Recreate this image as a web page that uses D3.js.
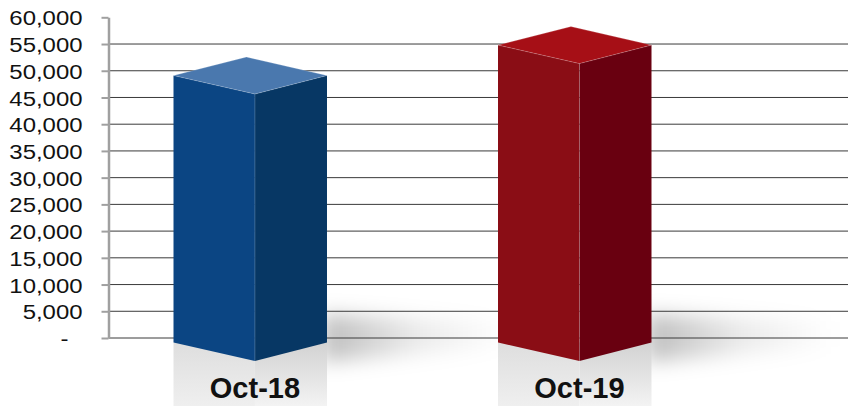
<!DOCTYPE html>
<html><head><meta charset="utf-8">
<script src="https://cdn.jsdelivr.net/npm/d3@7"></script>
<style>
html,body{margin:0;padding:0;background:#fff;}
svg{display:block;}
</style></head>
<body>
<svg id="chart" width="848" height="406"></svg>
<script>
const categories = ["Oct-18", "Oct-19"];
const values = [49100, 54800];
const tickValues = [0, 5000, 10000, 15000, 20000, 25000, 30000, 35000, 40000, 45000, 50000, 55000, 60000];
const tickLabels = ["-", "5,000", "10,000", "15,000", "20,000", "25,000", "30,000", "35,000", "40,000", "45,000", "50,000", "55,000", "60,000"];
const faceColors = [
  {left: "#0b4583", right: "#073764", top: "#4a78ae"},
  {left: "#8a0d15", right: "#690010", top: "#a60f16"}
];

const W = 848, H = 406;
const svg = d3.select("#chart");
const defs = svg.append("defs");

const y = d3.scaleLinear().domain([0, 60000]).range([338, 17.3]);
const x = d3.scaleBand().domain(categories).range([88, 737]).padding(0);
const axisX = 108.5;

const halfW = x.bandwidth() * 0.2365;
const depth = 18.5, frontDx = 4.7, backDx = -3.8, baseDrop = 4.5;

// filters / gradients
const blur = defs.append("filter").attr("id", "blur").attr("x", "-50%").attr("y", "-50%").attr("width", "200%").attr("height", "200%");
blur.append("feGaussianBlur").attr("stdDeviation", 10);
const sg = defs.append("linearGradient").attr("id", "shadowGrad").attr("x1", 0).attr("x2", 1).attr("y1", 0).attr("y2", 0);
sg.append("stop").attr("offset", "0%").attr("stop-color", "#000").attr("stop-opacity", 0.26);
sg.append("stop").attr("offset", "50%").attr("stop-color", "#000").attr("stop-opacity", 0.08);
sg.append("stop").attr("offset", "100%").attr("stop-color", "#000").attr("stop-opacity", 0);
const fg = defs.append("linearGradient").attr("id", "floorL").attr("x1", 0).attr("x2", 0).attr("y1", 0).attr("y2", 1);
fg.append("stop").attr("offset", "0%").attr("stop-color", "#dedede");
fg.append("stop").attr("offset", "100%").attr("stop-color", "#efefef");
const fg2 = defs.append("linearGradient").attr("id", "floorR").attr("x1", 0).attr("x2", 0).attr("y1", 0).attr("y2", 1);
fg2.append("stop").attr("offset", "0%").attr("stop-color", "#d2d2d2");
fg2.append("stop").attr("offset", "100%").attr("stop-color", "#f3f3f3");

// shadows
const shadowG = svg.append("g");
categories.forEach((c, i) => {
  const cx = x(c) + x.bandwidth() / 2;
  const xr = cx + halfW;
  const y0 = y(0);
  shadowG.append("polygon")
    .attr("points", [[xr - 5, y0 - 24], [xr + 185, y0 - 16], [xr + 185, y0 + 8], [xr - 5, y0 + 24]].map(p => p.join(",")).join(" "))
    .attr("fill", "url(#shadowGrad)")
    .attr("filter", "url(#blur)");
});

// gridlines
const grid = svg.append("g");
tickValues.filter(v => v < 60000).forEach(v => {
  grid.append("line")
    .attr("x1", axisX).attr("x2", W)
    .attr("y1", y(v)).attr("y2", y(v))
    .attr("stroke", "#3a3a3a").attr("stroke-width", 1);
});

// axis
const axis = d3.axisLeft(y).tickValues(tickValues).tickFormat((d, i) => tickLabels[i]).tickSize(7).tickSizeOuter(0);
const ax = svg.append("g").attr("transform", `translate(${axisX},0)`).call(axis);
ax.select(".domain").attr("stroke", "#a0a0a0").attr("stroke-width", 2.5);
ax.selectAll(".tick line").attr("stroke", "#a0a0a0").attr("stroke-width", 2);
const sx = 1.14;
ax.selectAll(".tick text")
  .attr("font-family", "'Liberation Sans', Arial, sans-serif")
  .attr("font-size", 21)
  .attr("fill", "#111")
  .attr("transform", `scale(${sx},1)`)
  .attr("x", (d, i) => (tickLabels[i] === "-" ? -40 : -26) / sx)
  .attr("dy", "0.36em");

// floors and bars
const barsG = svg.append("g");
categories.forEach((c, i) => {
  const cx = x(c) + x.bandwidth() / 2;
  const yt = y(values[i]);
  const y0 = y(0);
  const yb = y0 + baseDrop;
  const xl = cx - halfW, xr = cx + halfW, xf = cx + frontDx, xbk = cx + backDx;
  const col = faceColors[i];
  const pts = a => a.map(p => p.join(",")).join(" ");

  barsG.append("rect").attr("x", xl).attr("y", yb).attr("width", xf - xl).attr("height", H - yb).attr("fill", "url(#floorL)");
  barsG.append("rect").attr("x", xf).attr("y", yb).attr("width", xr - xf).attr("height", H - yb).attr("fill", "url(#floorR)");

  barsG.append("polygon").attr("points", pts([[xl, yt], [xf, yt + depth], [xf, yb + depth], [xl, yb]])).attr("fill", col.left);
  barsG.append("polygon").attr("points", pts([[xf, yt + depth], [xr, yt], [xr, yb], [xf, yb + depth]])).attr("fill", col.right);
  barsG.append("polygon").attr("points", pts([[xl, yt], [xbk, yt - depth], [xr, yt], [xf, yt + depth]])).attr("fill", col.top)
    .attr("stroke", "rgba(255,255,255,0.25)").attr("stroke-width", 0.8);
  barsG.append("line").attr("x1", xf).attr("x2", xf).attr("y1", yt + depth).attr("y2", yb + depth)
    .attr("stroke", "rgba(255,255,255,0.18)").attr("stroke-width", 1);

  svg.append("text")
    .attr("x", xf).attr("y", 398)
    .attr("text-anchor", "middle")
    .attr("font-family", "'Liberation Sans', Arial, sans-serif")
    .attr("font-weight", "bold")
    .attr("font-size", 29)
    .attr("fill", "#111")
    .text(c);
});
</script>
</body></html>
